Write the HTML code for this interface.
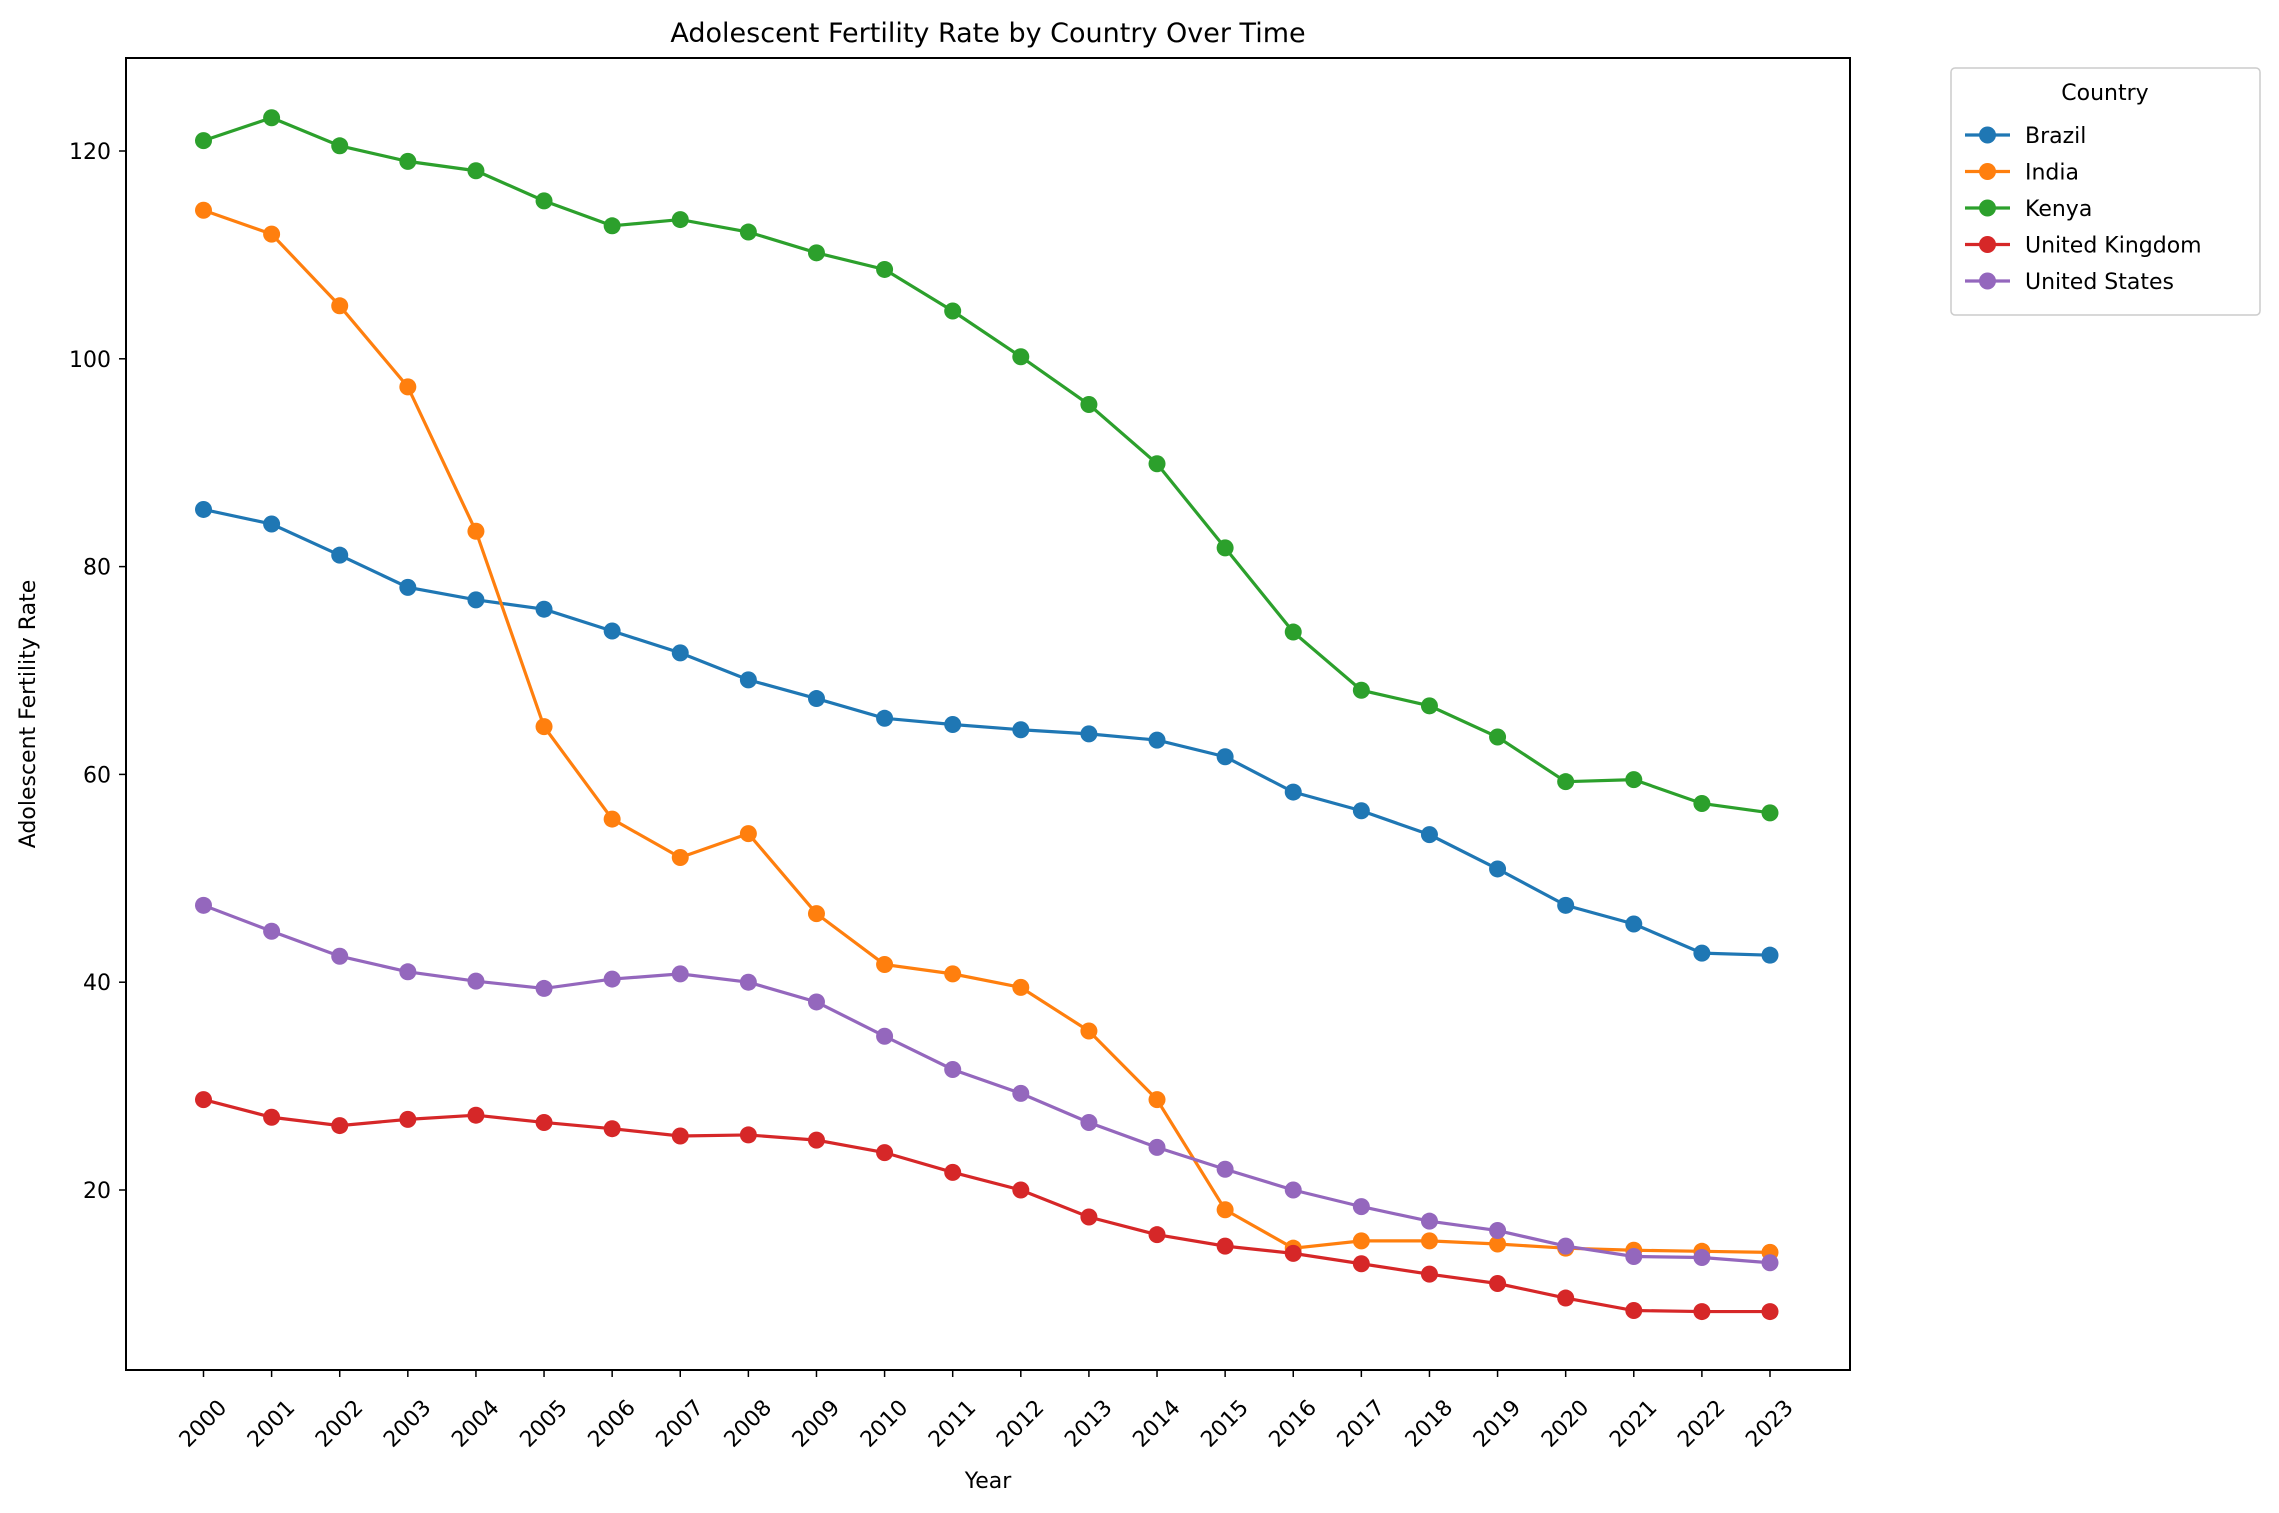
<!DOCTYPE html>
<html><head><meta charset="utf-8"><style>body{margin:0;background:#fff}svg{display:block;font-family:"DejaVu Sans","Liberation Sans",sans-serif}</style></head>
<body>
<svg id="chart" width="2279" height="1513" xmlns="http://www.w3.org/2000/svg">
<rect width="2279" height="1513" fill="#fff"/>
<text x="988" y="42" font-size="27" text-anchor="middle">Adolescent Fertility Rate by Country Over Time</text>
<text x="988" y="1488" font-size="22" text-anchor="middle">Year</text>
<text x="0" y="0" font-size="22" text-anchor="middle" transform="translate(35,714) rotate(-90)">Adolescent Fertility Rate</text>
<g id="plot"></g>
<rect x="126" y="58" width="1724" height="1312" fill="none" stroke="#000" stroke-width="2"/>
<g id="legend"></g>
</svg>
<script>
const years = [2000,2001,2002,2003,2004,2005,2006,2007,2008,2009,2010,2011,2012,2013,2014,2015,2016,2017,2018,2019,2020,2021,2022,2023];
const countries = ["Brazil","India","Kenya","United Kingdom","United States"];
const brazil = [85.5,84.1,81.1,78.0,76.8,75.9,73.8,71.7,69.1,67.3,65.4,64.8,64.3,63.9,63.3,61.7,58.3,56.5,54.2,50.9,47.4,45.6,42.8,42.6];
const india = [114.3,112.0,105.1,97.3,83.4,64.6,55.7,52.0,54.3,46.6,41.7,40.8,39.5,35.3,28.7,18.1,14.4,15.1,15.1,14.8,14.4,14.2,14.1,14.0];
const kenya = [121.0,123.2,120.5,119.0,118.1,115.2,112.8,113.4,112.2,110.2,108.6,104.6,100.2,95.6,89.9,81.8,73.7,68.1,66.6,63.6,59.3,59.5,57.2,56.3];
const uk = [28.7,27.0,26.2,26.8,27.2,26.5,25.9,25.2,25.3,24.8,23.6,21.7,20.0,17.4,15.7,14.6,13.9,12.9,11.9,11.0,9.6,8.4,8.3,8.3];
const us = [47.4,44.9,42.5,41.0,40.1,39.4,40.3,40.8,40.0,38.1,34.8,31.6,29.3,26.5,24.1,22.0,20.0,18.4,17.0,16.1,14.6,13.6,13.5,13.0];
const yTicks = [20,40,60,80,100,120];
const colors = ["#1f77b4","#ff7f0e","#2ca02c","#d62728","#9467bd"];
const series = [brazil,india,kenya,uk,us];

const NS="http://www.w3.org/2000/svg";
function xs(i){return 203.5+(1770-203.5)*i/(years.length-1);}
function ys(v){return 1190-(v-20)*(1190-151)/100;}
function mk(t,a,p){const e=document.createElementNS(NS,t);for(const k in a)e.setAttribute(k,a[k]);(p||plot).appendChild(e);return e;}
const plot=document.getElementById('plot');
const leg=document.getElementById('legend');

years.forEach((y,i)=>{
  const t=mk('line',{x1:xs(i),x2:xs(i),y1:1370,y2:1377,stroke:'#000','stroke-width':1.5});
  
  
  const l=mk('text',{x:xs(i),y:1424,'font-size':22,'text-anchor':'middle','dominant-baseline':'central',transform:`rotate(-45 ${xs(i)} 1424)`});
  l.textContent=y;
  
  
});
yTicks.forEach(v=>{
  const t=mk('line',{x1:119,x2:126,y1:ys(v),y2:ys(v),stroke:'#000','stroke-width':1.5});
  
  
  const l=mk('text',{x:111,y:ys(v)+8,'font-size':22,'text-anchor':'end'});
  l.textContent=v;
  
  
});
series.forEach((s,k)=>{
  const g=mk('g',{});
  
  
  const pl=mk('polyline',{points:s.map((v,i)=>xs(i)+','+ys(v)).join(' '),fill:'none',stroke:colors[k],'stroke-width':3.2},g);
  
  
  s.forEach((v,i)=>{
    const c=mk('circle',{cx:xs(i),cy:ys(v),r:8.5,fill:colors[k]},g);
    
    
  });
});
const box=mk('rect',{x:1951,y:68,width:309,height:247,rx:4,fill:'#fff',stroke:'#ccc','stroke-width':1.5},leg);


const lt=mk('text',{x:2105,y:100,'font-size':22,'text-anchor':'middle'},leg);
lt.textContent='Country';


countries.forEach((c,k)=>{
  const y=135+k*36.5;
  const g=mk('g',{},leg);
  
  
  mk('line',{x1:1965,x2:2010,y1:y,y2:y,stroke:colors[k],'stroke-width':3.2},g);
  mk('circle',{cx:1987.5,cy:y,r:8.5,fill:colors[k]},g);
  const t=mk('text',{x:2025,y:y+8,'font-size':22},g);
  t.textContent=c;
});
</script>
</body></html>
